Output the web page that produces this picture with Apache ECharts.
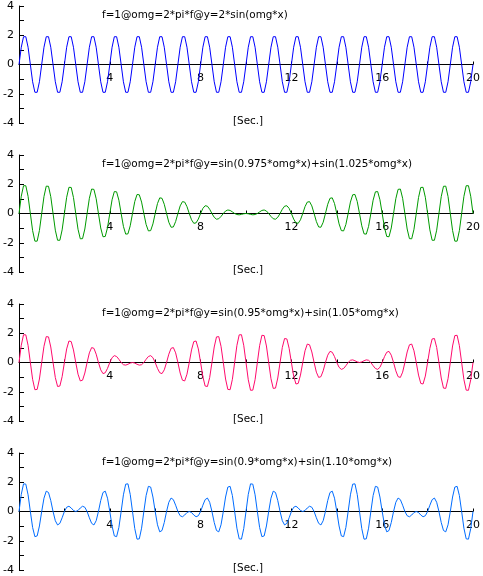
<!DOCTYPE html>
<html>
<head>
<meta charset="utf-8">
<script src="https://cdn.jsdelivr.net/npm/echarts@6/dist/echarts.min.js"></script>
<style>
html,body{margin:0;padding:0;background:#fff;}
#chart{width:483px;height:576px;}
</style>
</head>
<body>
<div id="chart"></div>
<script>
// sample times [Sec.]
const times = [
0,0.1,0.2,0.3,0.4,0.5,0.6,0.7,0.8,0.9,
1,1.1,1.2,1.3,1.4,1.5,1.6,1.7,1.8,1.9,
2,2.1,2.2,2.3,2.4,2.5,2.6,2.7,2.8,2.9,
3,3.1,3.2,3.3,3.4,3.5,3.6,3.7,3.8,3.9,
4,4.1,4.2,4.3,4.4,4.5,4.6,4.7,4.8,4.9,
5,5.1,5.2,5.3,5.4,5.5,5.6,5.7,5.8,5.9,
6,6.1,6.2,6.3,6.4,6.5,6.6,6.7,6.8,6.9,
7,7.1,7.2,7.3,7.4,7.5,7.6,7.7,7.8,7.9,
8,8.1,8.2,8.3,8.4,8.5,8.6,8.7,8.8,8.9,
9,9.1,9.2,9.3,9.4,9.5,9.6,9.7,9.8,9.9,
10,10.1,10.2,10.3,10.4,10.5,10.6,10.7,10.8,10.9,
11,11.1,11.2,11.3,11.4,11.5,11.6,11.7,11.8,11.9,
12,12.1,12.2,12.3,12.4,12.5,12.6,12.7,12.8,12.9,
13,13.1,13.2,13.3,13.4,13.5,13.6,13.7,13.8,13.9,
14,14.1,14.2,14.3,14.4,14.5,14.6,14.7,14.8,14.9,
15,15.1,15.2,15.3,15.4,15.5,15.6,15.7,15.8,15.9,
16,16.1,16.2,16.3,16.4,16.5,16.6,16.7,16.8,16.9,
17,17.1,17.2,17.3,17.4,17.5,17.6,17.7,17.8,17.9,
18,18.1,18.2,18.3,18.4,18.5,18.6,18.7,18.8,18.9,
19,19.1,19.2,19.3,19.4,19.5,19.6,19.7,19.8,19.9,
20];

// panel 1: y = 2*sin(omg*x)
const y1 = [
0,1.18,1.90,1.90,1.18,0,-1.18,-1.90,-1.90,-1.18,
0,1.18,1.90,1.90,1.18,0,-1.18,-1.90,-1.90,-1.18,
0,1.18,1.90,1.90,1.18,0,-1.18,-1.90,-1.90,-1.18,
0,1.18,1.90,1.90,1.18,0,-1.18,-1.90,-1.90,-1.18,
0,1.18,1.90,1.90,1.18,0,-1.18,-1.90,-1.90,-1.18,
0,1.18,1.90,1.90,1.18,0,-1.18,-1.90,-1.90,-1.18,
0,1.18,1.90,1.90,1.18,0,-1.18,-1.90,-1.90,-1.18,
0,1.18,1.90,1.90,1.18,0,-1.18,-1.90,-1.90,-1.18,
0,1.18,1.90,1.90,1.18,0,-1.18,-1.90,-1.90,-1.18,
0,1.18,1.90,1.90,1.18,0,-1.18,-1.90,-1.90,-1.18,
0,1.18,1.90,1.90,1.18,0,-1.18,-1.90,-1.90,-1.18,
0,1.18,1.90,1.90,1.18,0,-1.18,-1.90,-1.90,-1.18,
0,1.18,1.90,1.90,1.18,0,-1.18,-1.90,-1.90,-1.18,
0,1.18,1.90,1.90,1.18,0,-1.18,-1.90,-1.90,-1.18,
0,1.18,1.90,1.90,1.18,0,-1.18,-1.90,-1.90,-1.18,
0,1.18,1.90,1.90,1.18,0,-1.18,-1.90,-1.90,-1.18,
0,1.18,1.90,1.90,1.18,0,-1.18,-1.90,-1.90,-1.18,
0,1.18,1.90,1.90,1.18,0,-1.18,-1.90,-1.90,-1.18,
0,1.18,1.90,1.90,1.18,0,-1.18,-1.90,-1.90,-1.18,
0,1.18,1.90,1.90,1.18,0,-1.18,-1.90,-1.90,-1.18,
0];

// panel 2: y = sin(0.975*omg*x)+sin(1.025*omg*x)
const y2 = [
0,1.18,1.90,1.90,1.17,0,-1.17,-1.89,-1.89,-1.16,
0,1.16,1.87,1.86,1.15,0,-1.14,-1.83,-1.83,-1.12,
0,1.11,1.79,1.78,1.09,0,-1.08,-1.73,-1.72,-1.06,
0,1.04,1.67,1.65,1.01,0,-0.99,-1.59,-1.57,-0.96,
0,0.94,1.50,1.48,0.91,0,-0.88,-1.41,-1.39,-0.84,
0,0.82,1.30,1.28,0.78,0,-0.75,-1.19,-1.17,-0.71,
0,0.68,1.07,1.04,0.63,0,-0.60,-0.94,-0.92,-0.55,
0,0.52,0.81,0.78,0.47,0,-0.43,-0.67,-0.64,-0.38,
0,0.35,0.53,0.50,0.29,0,-0.26,-0.39,-0.36,-0.20,
0,0.17,0.24,0.21,0.11,0,-0.07,-0.09,-0.06,-0.02,
0,-0.02,-0.06,-0.09,-0.07,0,0.11,0.21,0.24,0.17,
0,-0.20,-0.36,-0.39,-0.26,0,0.29,0.50,0.53,0.35,
0,-0.38,-0.64,-0.67,-0.43,0,0.47,0.78,0.81,0.52,
0,-0.55,-0.92,-0.94,-0.60,0,0.63,1.04,1.07,0.68,
0,-0.71,-1.17,-1.19,-0.75,0,0.78,1.28,1.30,0.82,
0,-0.84,-1.39,-1.41,-0.88,0,0.91,1.48,1.50,0.94,
0,-0.96,-1.57,-1.59,-0.99,0,1.01,1.65,1.67,1.04,
0,-1.06,-1.72,-1.73,-1.08,0,1.09,1.78,1.79,1.11,
0,-1.12,-1.83,-1.83,-1.14,0,1.15,1.86,1.87,1.16,
0,-1.16,-1.89,-1.89,-1.17,0,1.17,1.90,1.90,1.18,
0];

// panel 3: y = sin(0.95*omg*x)+sin(1.05*omg*x)
const y3 = [
0,1.18,1.90,1.89,1.17,0,-1.15,-1.86,-1.84,-1.13,
0,1.11,1.77,1.75,1.06,0,-1.03,-1.64,-1.61,-0.97,
0,0.93,1.47,1.43,0.86,0,-0.80,-1.26,-1.21,-0.72,
0,0.66,1.02,0.97,0.57,0,-0.50,-0.76,-0.70,-0.40,
0,0.33,0.47,0.41,0.22,0,-0.15,-0.18,-0.12,-0.04,
0,-0.04,-0.12,-0.18,-0.15,0,0.22,0.41,0.47,0.33,
0,-0.40,-0.70,-0.76,-0.50,0,0.57,0.97,1.02,0.66,
0,-0.72,-1.21,-1.26,-0.80,0,0.86,1.43,1.47,0.93,
0,-0.97,-1.61,-1.64,-1.03,0,1.06,1.75,1.77,1.11,
0,-1.13,-1.84,-1.86,-1.15,0,1.17,1.89,1.90,1.18,
0,-1.18,-1.90,-1.89,-1.17,0,1.15,1.86,1.84,1.13,
0,-1.11,-1.77,-1.75,-1.06,0,1.03,1.64,1.61,0.97,
0,-0.93,-1.47,-1.43,-0.86,0,0.80,1.26,1.21,0.72,
0,-0.66,-1.02,-0.97,-0.57,0,0.50,0.76,0.70,0.40,
0,-0.33,-0.47,-0.41,-0.22,0,0.15,0.18,0.12,0.04,
0,0.04,0.12,0.18,0.15,0,-0.22,-0.41,-0.47,-0.33,
0,0.40,0.70,0.76,0.50,0,-0.57,-0.97,-1.02,-0.66,
0,0.72,1.21,1.26,0.80,0,-0.86,-1.43,-1.47,-0.93,
0,0.97,1.61,1.64,1.03,0,-1.06,-1.75,-1.77,-1.11,
0,1.13,1.84,1.86,1.15,0,-1.17,-1.89,-1.90,-1.18,
0];

// panel 4: y = sin(0.9*omg*x)+sin(1.10*omg*x)
const y4 = [
0,1.17,1.89,1.87,1.14,0,-1.09,-1.72,-1.67,-0.99,
0,0.91,1.39,1.30,0.75,0,-0.63,-0.92,-0.81,-0.43,
0,0.29,0.36,0.24,0.07,0,0.07,0.24,0.36,0.29,
0,-0.43,-0.81,-0.92,-0.63,0,0.75,1.30,1.39,0.91,
0,-0.99,-1.67,-1.72,-1.09,0,1.14,1.87,1.89,1.17,
0,-1.17,-1.89,-1.87,-1.14,0,1.09,1.72,1.67,0.99,
0,-0.91,-1.39,-1.30,-0.75,0,0.63,0.92,0.81,0.43,
0,-0.29,-0.36,-0.24,-0.07,0,-0.07,-0.24,-0.36,-0.29,
0,0.43,0.81,0.92,0.63,0,-0.75,-1.30,-1.39,-0.91,
0,0.99,1.67,1.72,1.09,0,-1.14,-1.87,-1.89,-1.17,
0,1.17,1.89,1.87,1.14,0,-1.09,-1.72,-1.67,-0.99,
0,0.91,1.39,1.30,0.75,0,-0.63,-0.92,-0.81,-0.43,
0,0.29,0.36,0.24,0.07,0,0.07,0.24,0.36,0.29,
0,-0.43,-0.81,-0.92,-0.63,0,0.75,1.30,1.39,0.91,
0,-0.99,-1.67,-1.72,-1.09,0,1.14,1.87,1.89,1.17,
0,-1.17,-1.89,-1.87,-1.14,0,1.09,1.72,1.67,0.99,
0,-0.91,-1.39,-1.30,-0.75,0,0.63,0.92,0.81,0.43,
0,-0.29,-0.36,-0.24,-0.07,0,-0.07,-0.24,-0.36,-0.29,
0,0.43,0.81,0.92,0.63,0,-0.75,-1.30,-1.39,-0.91,
0,0.99,1.67,1.72,1.09,0,-1.14,-1.87,-1.89,-1.17,
0];

const panelTitles = [
  'f=1@omg=2*pi*f@y=2*sin(omg*x)',
  'f=1@omg=2*pi*f@y=sin(0.975*omg*x)+sin(1.025*omg*x)',
  'f=1@omg=2*pi*f@y=sin(0.95*omg*x)+sin(1.05*omg*x)',
  'f=1@omg=2*pi*f@y=sin(0.9*omg*x)+sin(1.10*omg*x)'
];
const seriesValues = [y1, y2, y3, y4];
const xAxisName = '[Sec.]';
const yTickLabels = ['-4', '-2', '0', '2', '4'];
const xTickLabels = ['4', '8', '12', '16', '20'];

// layout / style
const colors = ['#0000ff', '#009a00', '#ff0a6c', '#006cff'];
const panelTops = [6, 155, 304, 453];
const panelH = 117;
const gridLeft = 19;
const gridW = 457;
const FONT = 'DejaVu Sans';
const TITLE_FONT = '10.4px "DejaVu Sans"';

const grids = [], xAxes = [], yAxes = [], series = [], graphics = [];
panelTops.forEach((top, i) => {
  grids.push({ left: gridLeft, top: top, width: gridW, height: panelH, containLabel: false });
  // x axis lifted from the grid bottom to the y = 0 line (middle of the -4..4 range)
  xAxes.push({
    type: 'value', gridIndex: i, min: 0, max: 20, interval: 2,
    position: 'bottom', offset: -panelH / 2,
    axisLine: { onZero: false, lineStyle: { color: '#000', width: 1 } },
    axisTick: { show: true, inside: true, length: 3, lineStyle: { color: '#000' } },
    axisLabel: {
      margin: 8, fontFamily: FONT, fontSize: 11, color: '#000',
      formatter: v => xTickLabels.indexOf(String(v)) >= 0 ? String(v) : ''
    },
    splitLine: { show: false }
  });
  yAxes.push({
    type: 'value', gridIndex: i, min: -4, max: 4, interval: 1,
    axisLine: { show: true, onZero: false, lineStyle: { color: '#000', width: 1 } },
    axisTick: { show: true, inside: true, length: 5, lineStyle: { color: '#000' } },
    axisLabel: {
      margin: 5, fontFamily: FONT, fontSize: 11, color: '#000',
      formatter: v => yTickLabels.indexOf(String(v)) >= 0 ? String(v) : ''
    },
    splitLine: { show: false }
  });
  series.push({
    type: 'line', xAxisIndex: i, yAxisIndex: i,
    data: times.map((t, k) => [t, seriesValues[i][k]]),
    showSymbol: false, symbol: 'none', smooth: false,
    lineStyle: { color: colors[i], width: 1 },
    itemStyle: { color: colors[i] },
    z: 1, animation: false, silent: true
  });
  graphics.push({
    type: 'text', left: 102, top: top + 4,
    style: { text: panelTitles[i], font: TITLE_FONT, fill: '#000' }
  });
  graphics.push({
    type: 'text', left: 233, top: top + 110,
    style: { text: xAxisName, font: TITLE_FONT, fill: '#000' }
  });
});

const chart = echarts.init(document.getElementById('chart'), null, { renderer: 'canvas' });
chart.setOption({
  animation: false,
  backgroundColor: '#fff',
  grid: grids,
  xAxis: xAxes,
  yAxis: yAxes,
  series: series,
  graphic: graphics
});
</script>
</body>
</html>
